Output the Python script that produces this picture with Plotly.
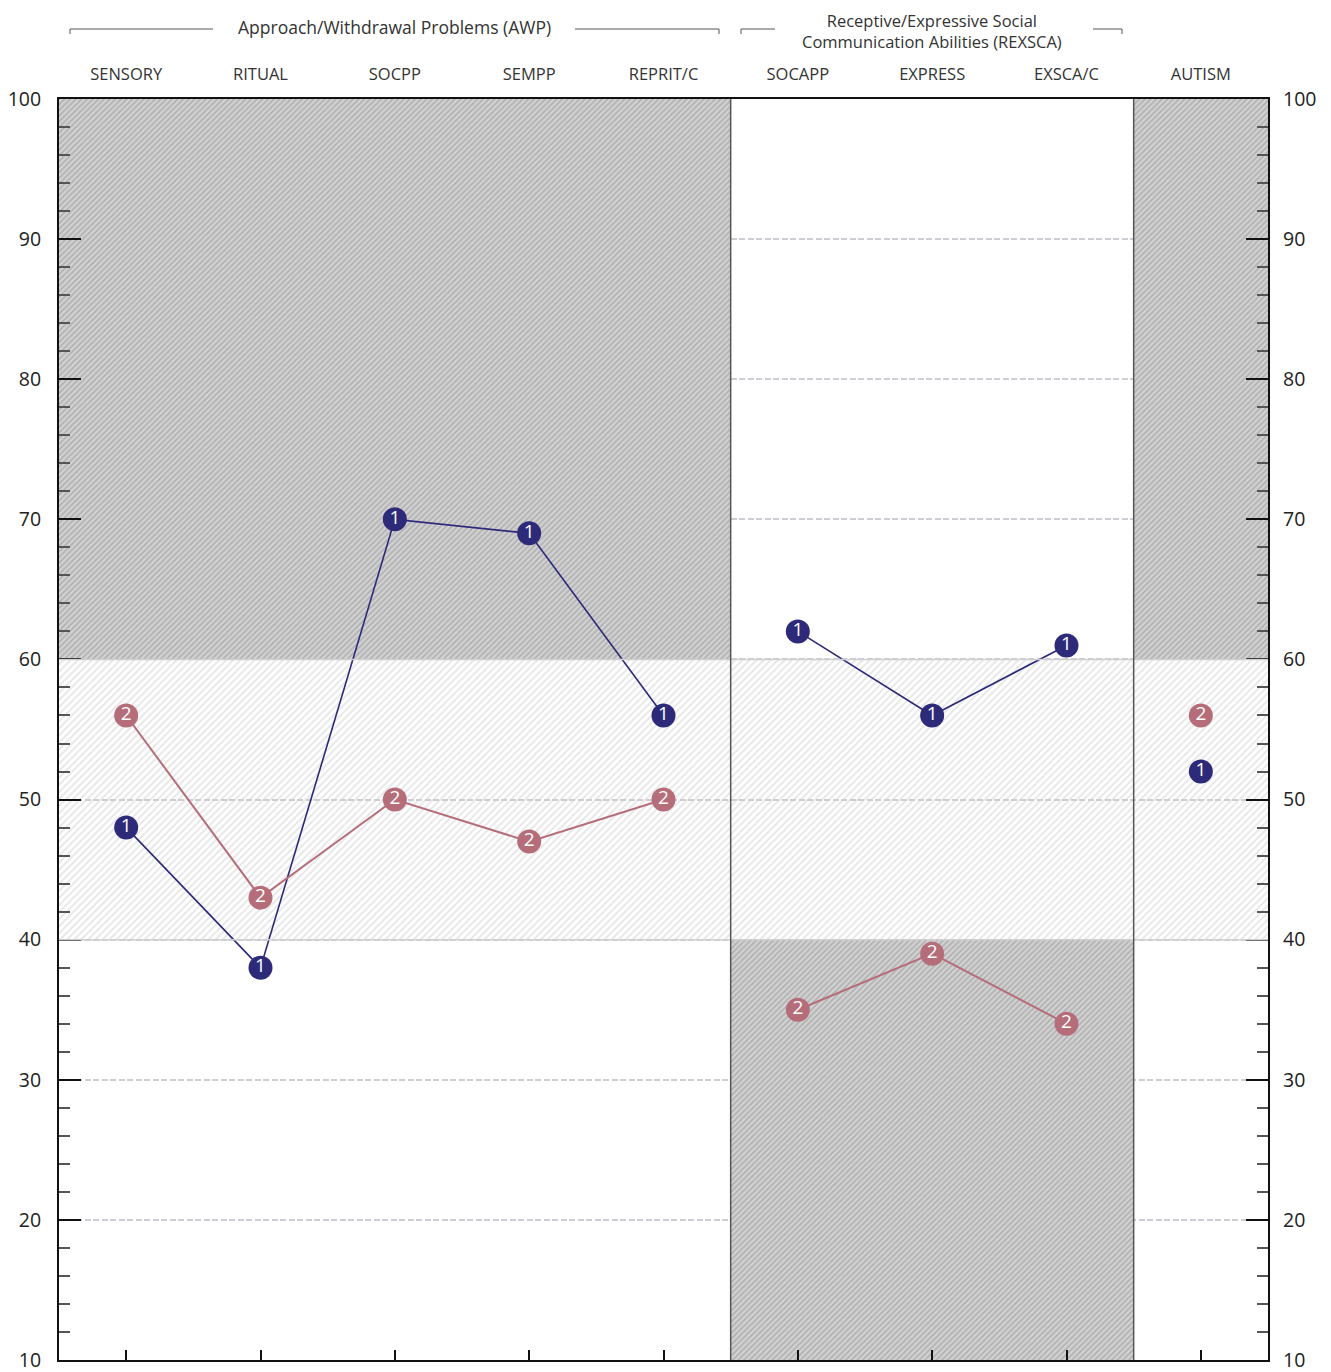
import plotly.graph_objects as go

# ---------------- data ----------------
categories = ["SENSORY", "RITUAL", "SOCPP", "SEMPP", "REPRIT/C",
              "SOCAPP", "EXPRESS", "EXSCA/C", "AUTISM"]
series1 = [48, 38, 70, 69, 56, 62, 56, 61, 52]
series2 = [56, 43, 50, 47, 50, 35, 39, 34, 56]
series_labels = ["1", "2"]

# groups of categories (first index, last index)
group_title_awp = "Approach/Withdrawal Problems (AWP)"
group_title_rex = "Receptive/Expressive Social<br>Communication Abilities (REXSCA)"
group_first = [0, 5, 8]
group_last = [4, 7, 8]

# zone shading per group: band 60-100, 40-60, 10-40
zone_high = ["dark", "white", "dark"]
zone_mid = ["light", "light", "light"]
zone_low = ["white", "dark", "white"]
band_low = [60, 40, 10]
band_high = [100, 60, 40]

y_ticks = [10, 20, 30, 40, 50, 60, 70, 80, 90, 100]

# ---------------- style ----------------
C1 = "#2d2a7a"
C2 = "#b56e79"
FONT = "Open Sans"
OFF = 8  # page body margin offset
W, H = 1331 - OFF, 1372 - OFF
ML, MT = 59 - OFF, 99 - OFF
PW, PH = 1209, 1261
MR = W - ML - PW
MB = H - MT - PH

fig = go.Figure()

patterns = {
    "dark": dict(shape="/", bgcolor="#d2d2d2", fgcolor="#8f8f8f", size=4, solidity=0.45),
    "light": dict(shape="/", bgcolor="rgba(255,255,255,0)", fgcolor="#cfcfcf", size=5, solidity=0.4),
}

for gi in range(len(group_first)):
    center = (group_first[gi] + group_last[gi]) / 2
    width = group_last[gi] - group_first[gi] + 1
    for zones, lo, hi in ((zone_high, band_low[0], band_high[0]),
                          (zone_mid, band_low[1], band_high[1]),
                          (zone_low, band_low[2], band_high[2])):
        z = zones[gi]
        if z == "white":
            continue
        fig.add_trace(go.Bar(
            x=[center], y=[hi - lo], base=[lo], width=[width],
            marker=dict(color="rgba(0,0,0,0)", line=dict(width=0),
                        pattern=patterns[z]),
            hoverinfo="skip", showlegend=False))

# series lines + markers, broken between groups
for vals, col, lab, lw in ((series1, C1, series_labels[0], 1.6),
                           (series2, C2, series_labels[1], 2.0)):
    for gi in range(len(group_first)):
        idx = list(range(group_first[gi], group_last[gi] + 1))
        fig.add_trace(go.Scatter(
            x=idx, y=[vals[i] for i in idx],
            mode="lines+markers+text",
            line=dict(color=col, width=lw),
            marker=dict(color=col, size=24, line=dict(width=0)),
            text=[lab] * len(idx), textposition="middle center",
            textfont=dict(color="white", size=19, family=FONT),
            hoverinfo="skip", showlegend=False, cliponaxis=False))

# dummy trace for the secondary axes
fig.add_trace(go.Scatter(x=[0], y=[50], xaxis="x2", yaxis="y2", mode="markers",
                         marker=dict(opacity=0), hoverinfo="skip", showlegend=False))

# ---------------- shapes ----------------
shapes = []
# solid zone boundaries at 40 and 60
for yv in (40, 60):
    shapes.append(dict(type="line", xref="paper", yref="y", x0=0, x1=1, y0=yv, y1=yv,
                       line=dict(color="#cfcfd2", width=1.5), layer="above"))
# vertical group separators
for gi in range(len(group_first) - 1):
    xv = group_last[gi] + 0.5
    shapes.append(dict(type="line", xref="x", yref="paper", x0=xv, x1=xv, y0=0, y1=1,
                       line=dict(color="#555555", width=1.5), layer="above"))


def px(x):
    # screenshot pixel x -> paper
    return (x - OFF - ML) / PW


def py(y):
    # screenshot pixel y -> paper
    return (MT + PH - (y - OFF)) / PH


# group header bracket lines (screenshot pixel positions)
brackets = [(70, 213, "left"), (575, 719, "right"), (741, 775, "left"), (1093, 1122, "right")]
for x0, x1, end in brackets:
    yl = py(29)
    yd = py(34)
    if end == "left":
        path = f"M {px(x0)},{yd} L {px(x0)},{yl} L {px(x1)},{yl}"
    else:
        path = f"M {px(x0)},{yl} L {px(x1)},{yl} L {px(x1)},{yd}"
    shapes.append(dict(type="path", xref="paper", yref="paper", path=path,
                       line=dict(color="#555555", width=1)))

annotations = [
    dict(text=group_title_awp, x=2, xref="x", y=py(27), yref="paper",
         showarrow=False, font=dict(family=FONT, size=17.5, color="#333333"),
         xanchor="center", yanchor="middle"),
    dict(text=group_title_rex, x=6, xref="x", y=py(8), yref="paper",
         showarrow=False, font=dict(family=FONT, size=16.5, color="#333333"),
         xanchor="center", yanchor="top", borderpad=0),
]

axis_common = dict(range=[10, 100], tickvals=y_ticks, ticks="inside", ticklen=22,
                   tickwidth=2, tickcolor="#111111", automargin=False,
                   ticklabeloverflow="allow",
                   tickfont=dict(family=FONT, size=19.5, color="#222222"),
                   minor=dict(ticks="inside", ticklen=11, dtick=2, tick0=10,
                              tickcolor="#555555", tickwidth=1.5, showgrid=False),
                   zeroline=False, fixedrange=True)

fig.update_layout(
    width=W, height=H,
    margin=dict(l=ML, r=MR, t=MT, b=MB, pad=0, autoexpand=False),
    plot_bgcolor="white", paper_bgcolor="white",
    barmode="overlay", bargap=0,
    showlegend=False,
    xaxis=dict(range=[-0.5, 8.5], tickvals=list(range(len(categories))),
               showticklabels=False, ticks="inside", ticklen=10, tickwidth=2,
               tickcolor="#111111", showgrid=False, zeroline=False, automargin=False,
               showline=True, linecolor="#111111", linewidth=2, mirror=True),
    xaxis2=dict(range=[-0.5, 8.5], overlaying="x", side="top",
                tickvals=list(range(len(categories))), ticktext=categories,
                ticks="", showgrid=False, zeroline=False, showline=False,
                ticklabelstandoff=15, automargin=False,
                tickfont=dict(family=FONT, size=16.5, color="#333333")),
    yaxis=dict(**axis_common, showgrid=True, gridcolor="#cdcdd3", gridwidth=1.5,
               griddash="6px,2.5px", showline=True, linecolor="#111111", linewidth=2,
               mirror=True, ticklabelstandoff=12),
    yaxis2=dict(**axis_common, overlaying="y", side="right", showgrid=False,
                showline=False, ticklabelstandoff=14),
    shapes=shapes,
    annotations=annotations,
)

fig.write_html("out.html")
